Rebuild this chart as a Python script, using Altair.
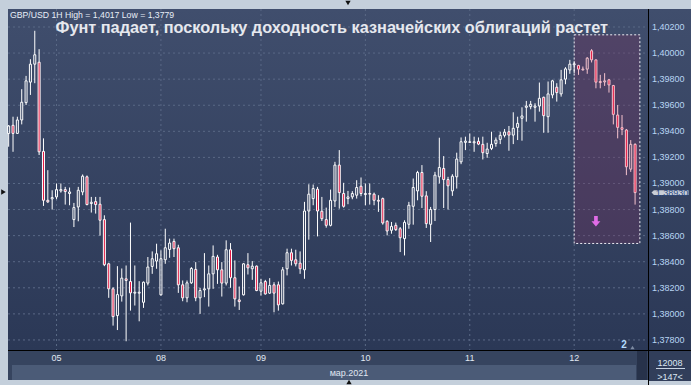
import altair as alt
import pandas as pd

# ---------------- data ----------------
opens = [
    1.39384, 1.39446, 1.39384, 1.39487, 1.39620, 1.39777, 1.39915, 1.39930, 1.39246, 1.38871,
    1.38882, 1.38897, 1.38943, 1.38953, 1.38923, 1.38723, 1.38820, 1.38935, 1.39051, 1.38846,
    1.38861, 1.38841, 1.38723, 1.38384, 1.38192, 1.37987, 1.38138, 1.38269, 1.38248, 1.38159,
    1.38159, 1.38089, 1.38236, 1.38364, 1.38405, 1.38146, 1.38415, 1.38494, 1.38556, 1.38507,
    1.38223, 1.38123, 1.38238, 1.38341, 1.38123, 1.38184, 1.38192, 1.38307, 1.38436, 1.38338,
    1.38236, 1.38492, 1.38277, 1.38107, 1.38146, 1.38377, 1.38346, 1.38366, 1.38174, 1.38248,
    1.38159, 1.38223, 1.38223, 1.38077, 1.38346, 1.38469, 1.38415, 1.38389, 1.38338, 1.38789,
    1.38884, 1.38956, 1.38787, 1.38723, 1.38679, 1.38866, 1.39141, 1.38923, 1.38884, 1.38897,
    1.38910, 1.38979, 1.38915, 1.38923, 1.38918, 1.38871, 1.38884, 1.38710, 1.38641, 1.38679,
    1.38653, 1.38577, 1.38687, 1.38825, 1.38943, 1.39084, 1.38905, 1.38687, 1.38800, 1.39051,
    1.39115, 1.39030, 1.38943, 1.39051, 1.39166, 1.39315, 1.39315, 1.39312, 1.39323, 1.39300,
    1.39230, 1.39269, 1.39307, 1.39338, 1.39369, 1.39397, 1.39371, 1.39430, 1.39500, 1.39584,
    1.39589, 1.39584, 1.39594, 1.39661, 1.39512, 1.39679, 1.39738, 1.39687, 1.39800, 1.39871,
    1.39910, 1.39905, 1.39871, 1.39877, 1.40018, 1.39948, 1.39782, 1.39779, 1.39795, 1.39751,
    1.39525, 1.39428, 1.39410, 1.39110, 1.39300,
]
highs = [
    1.39448, 1.39512, 1.39512, 1.39723, 1.39825, 1.39953, 1.40171, 1.40030, 1.39346, 1.39102,
    1.38948, 1.39000, 1.39000, 1.38974, 1.38969, 1.38851, 1.38974, 1.39069, 1.39061, 1.38897,
    1.38897, 1.38897, 1.38756, 1.38392, 1.38205, 1.38366, 1.38348, 1.38371, 1.38700, 1.38371,
    1.38251, 1.38248, 1.38436, 1.38479, 1.38538, 1.38487, 1.38653, 1.38577, 1.38577, 1.38530,
    1.38256, 1.38256, 1.38359, 1.38397, 1.38200, 1.38466, 1.38371, 1.38525, 1.38453, 1.38397,
    1.38564, 1.38543, 1.38410, 1.38210, 1.38389, 1.38466, 1.38405, 1.38371, 1.38269, 1.38261,
    1.38274, 1.38243, 1.38248, 1.38359, 1.38500, 1.38500, 1.38492, 1.38479, 1.38859, 1.38994,
    1.38992, 1.38974, 1.38897, 1.38815, 1.38953, 1.39166, 1.39256, 1.39005, 1.38943, 1.38941,
    1.39025, 1.39046, 1.39000, 1.39000, 1.38930, 1.38910, 1.38892, 1.38718, 1.38705, 1.38700,
    1.38666, 1.38718, 1.38859, 1.39038, 1.39097, 1.39141, 1.38941, 1.38820, 1.39089, 1.39351,
    1.39210, 1.39051, 1.39071, 1.39236, 1.39353, 1.39359, 1.39384, 1.39359, 1.39353, 1.39359,
    1.39312, 1.39397, 1.39353, 1.39397, 1.39418, 1.39441, 1.39546, 1.39512, 1.39584, 1.39633,
    1.39633, 1.39615, 1.39774, 1.39666, 1.39782, 1.39795, 1.39769, 1.39871, 1.39892, 1.39948,
    1.39936, 1.39910, 1.39897, 1.39969, 1.40030, 1.39948, 1.39833, 1.39846, 1.39800, 1.39756,
    1.39602, 1.39525, 1.39418, 1.39333, 1.39308,
]
lows = [
    1.39282, 1.39243, 1.39380, 1.39453, 1.39602, 1.39679, 1.39769, 1.39218, 1.38828, 1.38851,
    1.38800, 1.38879, 1.38930, 1.38838, 1.38833, 1.38666, 1.38710, 1.38910, 1.38833, 1.38777,
    1.38769, 1.38600, 1.38366, 1.38123, 1.37910, 1.37876, 1.38094, 1.37790, 1.38025, 1.38064,
    1.37943, 1.38046, 1.38218, 1.38307, 1.38346, 1.38141, 1.38384, 1.38430, 1.38436, 1.38161,
    1.38097, 1.38089, 1.38230, 1.38097, 1.38000, 1.38128, 1.38056, 1.38192, 1.38230, 1.38133,
    1.38218, 1.38200, 1.38056, 1.38030, 1.38141, 1.38302, 1.38261, 1.38174, 1.38141, 1.38148,
    1.38153, 1.38012, 1.38025, 1.38072, 1.38295, 1.38371, 1.38364, 1.38307, 1.38269, 1.38569,
    1.38833, 1.38594, 1.38712, 1.38661, 1.38671, 1.38820, 1.38807, 1.38815, 1.38841, 1.38879,
    1.38884, 1.38902, 1.38833, 1.38838, 1.38833, 1.38782, 1.38684, 1.38602, 1.38615, 1.38636,
    1.38474, 1.38448, 1.38653, 1.38684, 1.38871, 1.38812, 1.38659, 1.38551, 1.38712, 1.39000,
    1.38812, 1.38800, 1.38905, 1.38961, 1.39148, 1.39256, 1.39312, 1.39243, 1.39294, 1.39184,
    1.39197, 1.39256, 1.39282, 1.39302, 1.39353, 1.39251, 1.39302, 1.39333, 1.39328, 1.39474,
    1.39569, 1.39474, 1.39551, 1.39389, 1.39389, 1.39653, 1.39628, 1.39666, 1.39761, 1.39841,
    1.39846, 1.39833, 1.39866, 1.39841, 1.39928, 1.39730, 1.39730, 1.39748, 1.39697, 1.39453,
    1.39346, 1.39371, 1.39064, 1.39089, 1.38838,
]
closes = [
    1.39441, 1.39384, 1.39487, 1.39623, 1.39787, 1.39915, 1.39987, 1.39243, 1.38871, 1.38859,
    1.38892, 1.38953, 1.38953, 1.38938, 1.38935, 1.38815, 1.38948, 1.39056, 1.38838, 1.38856,
    1.38838, 1.38718, 1.38377, 1.38192, 1.37979, 1.38148, 1.38274, 1.38256, 1.38161, 1.38166,
    1.38166, 1.38243, 1.38359, 1.38423, 1.38461, 1.38423, 1.38507, 1.38543, 1.38500, 1.38223,
    1.38123, 1.38238, 1.38348, 1.38123, 1.38179, 1.38192, 1.38307, 1.38441, 1.38338, 1.38236,
    1.38492, 1.38277, 1.38115, 1.38094, 1.38384, 1.38353, 1.38366, 1.38179, 1.38238, 1.38153,
    1.38218, 1.38159, 1.38069, 1.38338, 1.38469, 1.38410, 1.38384, 1.38346, 1.38789, 1.38918,
    1.38961, 1.38789, 1.38730, 1.38679, 1.38871, 1.39141, 1.38930, 1.38825, 1.38897, 1.38923,
    1.38969, 1.38923, 1.38923, 1.38918, 1.38871, 1.38864, 1.38697, 1.38636, 1.38671, 1.38646,
    1.38584, 1.38702, 1.38833, 1.38969, 1.39084, 1.38902, 1.38692, 1.38800, 1.39064, 1.39123,
    1.39030, 1.38982, 1.39056, 1.39187, 1.39320, 1.39325, 1.39320, 1.39320, 1.39302, 1.39236,
    1.39264, 1.39300, 1.39333, 1.39369, 1.39394, 1.39371, 1.39423, 1.39461, 1.39518, 1.39594,
    1.39607, 1.39594, 1.39653, 1.39520, 1.39687, 1.39787, 1.39697, 1.39795, 1.39879, 1.39915,
    1.39918, 1.39877, 1.39877, 1.39961, 1.39948, 1.39777, 1.39774, 1.39787, 1.39756, 1.39530,
    1.39430, 1.39415, 1.39128, 1.39300, 1.38930,
]

price_ticks = [1.378, 1.380, 1.382, 1.384, 1.386, 1.388, 1.390,
               1.392, 1.394, 1.396, 1.398, 1.400, 1.402]
day_index = [11, 35, 58, 82, 106, 130]
day_labels = ["05", "08", "09", "10", "11", "12"]
month_label = "мар.2021"
header_text = "GBP/USD 1H High = 1,4017 Low = 1,3779"
title_text = "Фунт падает, поскольку доходность казначейских облигаций растет"
box_index = [130, 145.1]
box_price = [1.3854, 1.4014]
arrow_index = [135]
arrow_price = [1.3871]
highlight_from = 131
last_price = [closes[-1]]
bar_count_text = ["12008", ">147<"]
marker_text = "2"

# ---------------- layout ----------------
W, H = 641, 341
FONT = "Liberation Sans"
PRICE_FMT = "replace(format(datum.p, '.5f'), '.', ',')"

df = pd.DataFrame({"i": list(range(len(opens))), "open": opens, "high": highs,
                   "low": lows, "close": closes})
df["top"] = df[["open", "close"]].max(axis=1)
df["bot"] = df[["open", "close"]].min(axis=1)

xs = alt.Scale(domain=[-0.154, 147.2], nice=False, zero=False, padding=0)
ys = alt.Scale(domain=[1.37723, 1.40338], nice=False, zero=False, padding=0)

one = pd.DataFrame({"k": [0]})


def deco():
    return alt.Chart(one)


grad = alt.Gradient(
    gradient="linear",
    stops=[alt.GradientStop(offset=0, color="#404e6d"),
           alt.GradientStop(offset=1, color="#2b3856")],
    x1=0, x2=0, y1=0, y2=1,
)
bg = deco().mark_rect(fill=grad).encode(
    x=alt.value(0), x2=alt.value(683), y=alt.value(0), y2=alt.value(H))

strip_day = deco().mark_rect(fill="#36445f").encode(
    x=alt.value(0), x2=alt.value(641), y=alt.value(342), y2=alt.value(371))
strip_month = deco().mark_rect(fill="#4b5b77").encode(
    x=alt.value(4), x2=alt.value(628), y=alt.value(356), y2=alt.value(371))
scroll = deco().mark_rect(fill="#27324a").encode(
    x=alt.value(629), x2=alt.value(639), y=alt.value(342), y2=alt.value(371))
rbox = deco().mark_rect(fill="#313e5a").encode(
    x=alt.value(641), x2=alt.value(683), y=alt.value(342), y2=alt.value(372))

hgrid = alt.Chart(pd.DataFrame({"p": price_ticks})).mark_rule(
    color="#5a6986", strokeDash=[2, 3], strokeWidth=1).encode(
    y=alt.Y("p:Q", scale=ys, axis=None), x=alt.value(0), x2=alt.value(W))

price_labels = alt.Chart(pd.DataFrame({"p": price_ticks})).transform_calculate(
    t=PRICE_FMT).mark_text(font=FONT, fontSize=9, color="#b8d6f4", align="left",
                           baseline="middle").encode(
    x=alt.value(644), y=alt.Y("p:Q", scale=ys, axis=None), text="t:N")

vgrid = alt.Chart(pd.DataFrame({"d": day_index})).mark_rule(
    color="#5a6986", strokeDash=[2, 3], strokeWidth=1).encode(
    x=alt.X("d:Q", scale=xs, axis=None), y=alt.value(0), y2=alt.value(H))

box = alt.Chart(pd.DataFrame({"i0": [box_index[0]], "i1": [box_index[1]],
                              "p0": [box_price[0]], "p1": [box_price[1]]})).mark_rect(
    fill="#7a2d5c", fillOpacity=0.3, stroke="#eeeef4", strokeDash=[2, 2],
    strokeWidth=1).encode(
    x=alt.X("i0:Q", scale=xs, axis=None), x2="i1:Q",
    y=alt.Y("p0:Q", scale=ys, axis=None), y2="p1:Q")

hl = f"datum.i >= {highlight_from}"
stroke_c = alt.condition(hl, alt.value("#f6c4ce"), alt.value("#ffffff"))

base = alt.Chart(df)
xenc = alt.X("i:Q", scale=xs, axis=None)

wick_up = base.mark_rule(strokeWidth=1).encode(
    x=xenc, y=alt.Y("high:Q", scale=ys, axis=None), y2="top:Q", color=stroke_c)
wick_dn = base.mark_rule(strokeWidth=1).encode(
    x=xenc, y=alt.Y("bot:Q", scale=ys, axis=None), y2="low:Q", color=stroke_c)
bodies = base.mark_bar(size=2, strokeWidth=1).encode(
    x=xenc, y=alt.Y("top:Q", scale=ys, axis=None), y2="bot:Q",
    fill=alt.condition("datum.close < datum.open", alt.value("#e3143f"),
                       alt.value("transparent")),
    stroke=stroke_c)

ARROW = "M -0.35 -1 L 0.35 -1 L 0.35 0 L 0.85 0 L 0 1 L -0.85 0 L -0.35 0 Z"
arrow = alt.Chart(pd.DataFrame({"i": arrow_index, "p": arrow_price})).mark_point(
    shape=ARROW, filled=True, fill="#e06ce6", size=110, opacity=1,
    strokeWidth=0).encode(x=alt.X("i:Q", scale=xs, axis=None),
                          y=alt.Y("p:Q", scale=ys, axis=None))

TAG = "M -1 0 L -0.87 -0.125 L 1 -0.125 L 1 0.125 L -0.87 0.125 Z"
tag_base = alt.Chart(pd.DataFrame({"p": last_price})).transform_calculate(t=PRICE_FMT)
tag = tag_base.mark_point(shape=TAG, filled=True, fill="#c9ced7", size=1369,
                          opacity=1, strokeWidth=0).encode(
    x=alt.value(662), y=alt.Y("p:Q", scale=ys, axis=None))
tag_text = tag_base.mark_text(font=FONT, fontSize=9, color="#2c4c86",
                              align="center", baseline="middle", dy=0.5).encode(
    x=alt.value(664), y=alt.Y("p:Q", scale=ys, axis=None), text="t:N")

header = deco().mark_text(text=header_text, font=FONT, fontSize=8.7,
                          color="#e8eef8", align="left", baseline="middle").encode(
    x=alt.value(2), y=alt.value(5.5))
title = deco().mark_text(text=title_text, font=FONT, fontSize=16.3,
                         fontWeight="bold", color="#e6e8ee", align="left",
                         baseline="middle").encode(x=alt.value(47.5), y=alt.value(19))

days = alt.Chart(pd.DataFrame({"d": day_index, "lab": day_labels})).mark_text(
    font=FONT, fontSize=9, color="#e0e8f2", align="center", baseline="middle").encode(
    x=alt.X("d:Q", scale=xs, axis=None), y=alt.value(348.5), text="lab:N")
month = deco().mark_text(text=month_label, font=FONT, fontSize=9, color="#e0e8f2",
                         align="center", baseline="middle").encode(
    x=alt.value(341), y=alt.value(363.5))

cnt1 = deco().mark_text(text=bar_count_text[0], font=FONT, fontSize=9,
                        color="#dbe6f2", align="center", baseline="middle").encode(
    x=alt.value(662), y=alt.value(354))
cnt_line = deco().mark_rule(color="#c8d4e2", strokeWidth=1).encode(
    x=alt.value(648), x2=alt.value(677), y=alt.value(359.5))
cnt2 = deco().mark_text(text=bar_count_text[1], font=FONT, fontSize=9,
                        color="#dbe6f2", align="center", baseline="middle").encode(
    x=alt.value(662), y=alt.value(367.5))

mark2 = deco().mark_text(text=marker_text, font=FONT, fontSize=10, fontWeight="bold",
                         color="#b4dcff", align="center", baseline="middle").encode(
    x=alt.value(616), y=alt.value(336))
mark2_tri = deco().mark_point(shape="triangle-up", filled=True, color="#7d8aa2",
                              size=18, opacity=1).encode(
    x=alt.value(624.5), y=alt.value(338.5))

hline = deco().mark_rule(color="#000000", strokeWidth=1).encode(
    x=alt.value(0), x2=alt.value(683), y=alt.value(341.5))
vline = deco().mark_rule(color="#000000", strokeWidth=1).encode(
    x=alt.value(640.5), y=alt.value(0), y2=alt.value(376))

tri_top = deco().mark_point(shape="triangle-down", filled=True, color="#111111",
                            size=28, opacity=1).encode(x=alt.value(340), y=alt.value(-6))
tri_left = deco().mark_point(shape="triangle-right", filled=True, color="#111111",
                             size=28, opacity=1).encode(x=alt.value(-4.5), y=alt.value(183))
tri_bot = deco().mark_point(shape="triangle-up", filled=True, color="#111111",
                            size=28, opacity=1).encode(x=alt.value(341), y=alt.value(373))

chart = alt.layer(
    bg, strip_day, strip_month, scroll, rbox, hgrid, vgrid, box,
    wick_up, wick_dn, bodies, arrow, price_labels, tag, tag_text,
    header, title, days, month, cnt1, cnt_line, cnt2, mark2, mark2_tri,
    hline, vline, tri_top, tri_left, tri_bot,
).properties(
    width=W, height=H,
    padding={"left": 8, "top": 9, "right": 42, "bottom": 35},
    autosize=alt.AutoSizeParams(type="none"),
    background="#c4cfdb",
).configure_view(stroke=None)

chart.save("out.html", embed_options={"renderer": "svg", "actions": False})
